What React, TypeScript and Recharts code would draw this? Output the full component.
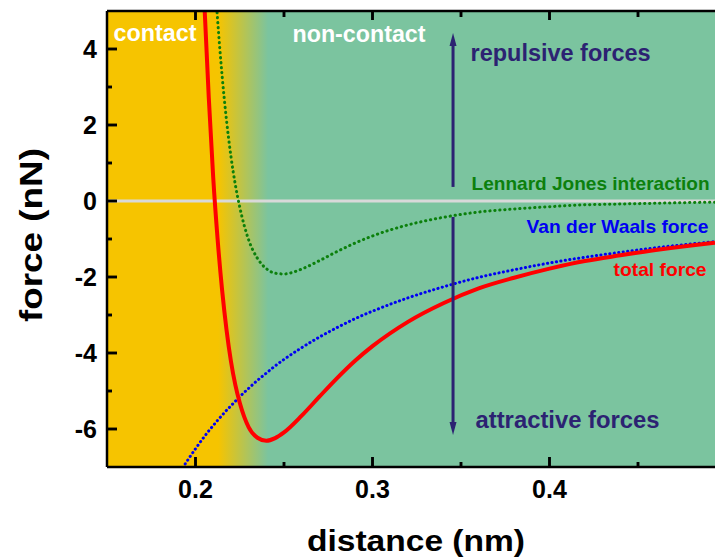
import React from 'react';
import {
  ComposedChart,
  Line,
  XAxis,
  YAxis,
  CartesianGrid,
  ReferenceLine,
  ReferenceDot,
  Label,
} from 'recharts';

// ---- data ----
const distance = [
  0.19, 0.195, 0.2, 0.205, 0.2075, 0.21, 0.2125, 0.215, 0.2175, 0.22, 0.2225,
  0.225, 0.23, 0.235, 0.24, 0.245, 0.25, 0.26, 0.27, 0.28, 0.29, 0.3, 0.32,
  0.34, 0.36, 0.38, 0.4, 0.42, 0.44, 0.46, 0.48, 0.4935,
];
const lennardJones = [
  null, null, null, 11.4, 8.77, 6.53, 4.76, 3.31, 2.13, 1.18, 0.43,
  -0.16, -1.02, -1.51, -1.78, -1.9, -1.92, -1.79, -1.57, -1.33, -1.11, -0.92, -0.63,
  -0.43, -0.29, -0.21, -0.15, -0.1, -0.08, -0.06, -0.04, -0.03,
];
const vanDerWaals = [
  -7.22, -6.86, -6.52, -6.2, -6.05, -5.91, -5.77, -5.64, -5.51, -5.39, -5.27,
  -5.15, -4.93, -4.72, -4.53, -4.34, -4.17, -3.86, -3.58, -3.33, -3.1, -2.9, -2.55,
  -2.26, -2.01, -1.81, -1.63, -1.48, -1.35, -1.23, -1.13, -1.07,
];
const totalForce = [
  null, null, 12.3, 5.2, 2.72, 0.62, -1.01, -2.33, -3.38, -4.21, -4.84,
  -5.31, -5.95, -6.23, -6.31, -6.24, -6.09, -5.65, -5.15, -4.66, -4.21, -3.82, -3.18,
  -2.69, -2.3, -2.02, -1.78, -1.58, -1.43, -1.29, -1.17, -1.1,
];

const xTicks = [0.2, 0.25, 0.3, 0.35, 0.4, 0.45];
const yTicks = [-6, -5, -4, -3, -2, -1, 0, 1, 2, 3, 4];
const xDomain = [0.15, 0.4935];
const yDomain = [-7, 5];

// arrows (data coordinates): x, shaft start, arrow tip
const arrowX = 0.3455;
const upArrow = { from: 0.37, to: 4.42 };
const downArrow = { from: -0.42, to: -6.16 };

const data = distance.map((d, i) => ({
  distance: d,
  lj: lennardJones[i],
  vdw: vanDerWaals[i],
  total: totalForce[i],
}));

// ---- layout / styles ----
const W = 715;
const H = 559;
const Y_AXIS_W = 107;
const TOP_H = 11;
const BOTTOM_H = 92;
const PLOT_W = W - Y_AXIS_W;
const PLOT_H = H - TOP_H - BOTTOM_H;
const X_PER_PX = (xDomain[1] - xDomain[0]) / PLOT_W;
const Y_PER_PX = (yDomain[1] - yDomain[0]) / PLOT_H;

const isMajorX = (v: number) => Math.abs(v * 10 - Math.round(v * 10)) < 1e-6;
const isMajorY = (v: number) => Math.abs(v / 2 - Math.round(v / 2)) < 1e-6;

// inward tick marks, built from the tick arrays (null breaks the segments)
const bottomTickMarks = xTicks.flatMap((t) => [
  { distance: t, tk: yDomain[0] },
  { distance: t, tk: yDomain[0] + (isMajorX(t) ? 10 : 5) * Y_PER_PX },
  { distance: t, tk: null },
]);
const topTickMarks = xTicks.flatMap((t) => [
  { distance: t, tk: yDomain[1] },
  { distance: t, tk: yDomain[1] - (isMajorX(t) ? 9 : 6) * Y_PER_PX },
  { distance: t, tk: null },
]);
const leftTickMarks = yTicks.flatMap((t) => [
  { distance: xDomain[0], tk: t },
  { distance: xDomain[0] + (isMajorY(t) ? 10 : 5) * X_PER_PX, tk: t },
  { distance: xDomain[0] + (isMajorY(t) ? 10 : 5) * X_PER_PX, tk: null },
]);

const FONT = '"Liberation Sans", Arial, Helvetica, sans-serif';
const NAVY = '#2C2272';
const RED = '#FF0000';
const GREEN = '#0C800C';
const BLUE = '#0000F2';
const YELLOW = '#F6C400';
const MINT = '#7BC49F';

const annotations = [
  { text: 'contact', x: 0.1537, y: 4.2, color: '#FFFFFF', size: 23, len: 83 },
  { text: 'non-contact', x: 0.2548, y: 4.18, color: '#FFFFFF', size: 23, len: 133 },
  { text: 'repulsive forces', x: 0.3554, y: 3.68, color: NAVY, size: 23, len: 180 },
  { text: 'Lennard Jones interaction', x: 0.356, y: 0.29, color: GREEN, size: 19, len: 238 },
  { text: 'Van der Waals force', x: 0.387, y: -0.84, color: BLUE, size: 19, len: 182 },
  { text: 'total force', x: 0.4362, y: -1.98, color: RED, size: 19, len: 93 },
  { text: 'attractive forces', x: 0.3582, y: -5.97, color: NAVY, size: 23, len: 184 },
];

// axis tick labels
const BottomTick = (props: any) => {
  const { x, y, payload } = props;
  if (!isMajorX(payload.value)) return <g />;
  return (
    <text x={x} y={y + 31} textAnchor="middle" fontFamily={FONT} fontWeight="bold" fontSize={25} fill="#000">
      {payload.value.toFixed(1)}
    </text>
  );
};

const LeftTick = (props: any) => {
  const { x, y, payload } = props;
  if (!isMajorY(payload.value)) return <g />;
  return (
    <text x={x - 10} y={y} dy="0.36em" textAnchor="end" fontFamily={FONT} fontWeight="bold" fontSize={25} fill="#000">
      {String(payload.value)}
    </text>
  );
};

const XTitle = (props: any) => {
  const vb = props.viewBox || { x: Y_AXIS_W, y: H - BOTTOM_H, width: PLOT_W, height: BOTTOM_H };
  return (
    <text
      x={vb.x + vb.width / 2 + 5}
      y={vb.y + 84}
      textAnchor="middle"
      fontFamily={FONT}
      fontWeight="bold"
      fontSize={30}
      fill="#000"
      textLength={218}
      lengthAdjust="spacingAndGlyphs"
    >
      distance (nm)
    </text>
  );
};

const YTitle = (props: any) => {
  const vb = props.viewBox || { x: 0, y: TOP_H, width: Y_AXIS_W, height: PLOT_H };
  const cx = vb.x + 42;
  const cy = vb.y + vb.height / 2 - 4;
  return (
    <text
      x={cx}
      y={cy}
      transform={`rotate(-90 ${cx} ${cy})`}
      textAnchor="middle"
      fontFamily={FONT}
      fontWeight="bold"
      fontSize={32}
      fill="#000"
      textLength={174}
      lengthAdjust="spacingAndGlyphs"
    >
      force (nN)
    </text>
  );
};

const makeText = (a: any) => (p: any) => (
  <text
    x={p.cx}
    y={p.cy}
    fontFamily={FONT}
    fontWeight="bold"
    fontSize={a.size}
    fill={a.color}
    textLength={a.len}
    lengthAdjust="spacingAndGlyphs"
  >
    {a.text}
  </text>
);

const UpHead = (p: any) => (
  <path d={`M${p.cx},${p.cy} L${p.cx - 3.5},${p.cy + 13} L${p.cx + 3.5},${p.cy + 13} Z`} fill={NAVY} />
);
const DownHead = (p: any) => (
  <path d={`M${p.cx},${p.cy} L${p.cx - 3.5},${p.cy - 13} L${p.cx + 3.5},${p.cy - 13} Z`} fill={NAVY} />
);

export default function App() {
  return (
    <div style={{ position: 'absolute', left: 0, top: 0, width: W, height: H, background: '#fff' }}>
      <ComposedChart width={W} height={H} data={data} margin={{ top: 0, right: 0, bottom: 0, left: 0 }}>
        <defs>
          <linearGradient id="bgGrad" x1="0" y1="0" x2="1" y2="0">
            <stop offset="0" stopColor={YELLOW} />
            <stop offset="0.183" stopColor={YELLOW} />
            <stop offset="0.265" stopColor={MINT} />
            <stop offset="1" stopColor={MINT} />
          </linearGradient>
        </defs>
        <CartesianGrid fill="url(#bgGrad)" fillOpacity={1} horizontal={false} vertical={false} stroke="none" />
        <ReferenceLine y={0} stroke="#D9D9D9" strokeWidth={3} />
        <XAxis
          dataKey="distance"
          type="number"
          domain={xDomain}
          allowDataOverflow
          ticks={xTicks}
          interval={0}
          tick={<BottomTick />}
          tickLine={false}
          tickSize={0}
          tickMargin={0}
          axisLine={false}
          height={BOTTOM_H}
        >
          <Label content={<XTitle />} />
        </XAxis>
        <XAxis
          xAxisId="top"
          orientation="top"
          type="number"
          domain={xDomain}
          allowDataOverflow
          ticks={xTicks}
          tick={false}
          tickLine={false}
          axisLine={false}
          height={TOP_H}
        />
        <YAxis
          type="number"
          domain={yDomain}
          allowDataOverflow
          ticks={yTicks}
          interval={0}
          tick={<LeftTick />}
          tickLine={false}
          tickSize={0}
          tickMargin={0}
          axisLine={false}
          width={Y_AXIS_W}
        >
          <Label content={<YTitle />} />
        </YAxis>
        <Line
          dataKey="lj"
          type="monotone"
          stroke={GREEN}
          strokeWidth={3}
          strokeDasharray="0.3 4.7"
          strokeLinecap="round"
          dot={false}
          isAnimationActive={false}
        />
        <Line
          dataKey="vdw"
          type="monotone"
          stroke={BLUE}
          strokeWidth={3}
          strokeDasharray="0.2 4.3"
          strokeLinecap="round"
          dot={false}
          isAnimationActive={false}
        />
        <Line
          dataKey="total"
          type="monotone"
          stroke={RED}
          strokeWidth={4}
          dot={false}
          isAnimationActive={false}
        />
        <ReferenceLine
          segment={[{ x: arrowX, y: upArrow.from }, { x: arrowX, y: upArrow.to - 0.3 }]}
          stroke={NAVY}
          strokeWidth={3}
        />
        <ReferenceDot x={arrowX} y={upArrow.to} shape={UpHead} />
        <ReferenceLine
          segment={[{ x: arrowX, y: downArrow.from }, { x: arrowX, y: downArrow.to + 0.3 }]}
          stroke={NAVY}
          strokeWidth={3}
        />
        <ReferenceDot x={arrowX} y={downArrow.to} shape={DownHead} />
        {annotations.map((a) => (
          <ReferenceDot key={a.text} x={a.x} y={a.y} shape={makeText(a)} />
        ))}
        {/* inward tick marks (series form) */}
        <Line data={bottomTickMarks} dataKey="tk" type="linear" stroke="#000" strokeWidth={2.5} dot={false} activeDot={false} connectNulls={false} isAnimationActive={false} legendType="none" />
        <Line data={topTickMarks} dataKey="tk" type="linear" stroke="#000" strokeWidth={2.5} dot={false} activeDot={false} connectNulls={false} isAnimationActive={false} legendType="none" />
        <Line data={leftTickMarks} dataKey="tk" type="linear" stroke="#000" strokeWidth={2.5} dot={false} activeDot={false} connectNulls={false} isAnimationActive={false} legendType="none" />
        {/* inward tick marks (reference-segment form, same positions) */}
        {xTicks.map((t) => (
          <ReferenceLine
            key={`b${t}`}
            segment={[{ x: t, y: yDomain[0] }, { x: t, y: yDomain[0] + (isMajorX(t) ? 10 : 5) * Y_PER_PX }]}
            stroke="#000"
            strokeWidth={2.5}
            ifOverflow="visible"
          />
        ))}
        {xTicks.map((t) => (
          <ReferenceLine
            key={`t${t}`}
            segment={[{ x: t, y: yDomain[1] }, { x: t, y: yDomain[1] - (isMajorX(t) ? 9 : 6) * Y_PER_PX }]}
            stroke="#000"
            strokeWidth={2.5}
            ifOverflow="visible"
          />
        ))}
        {yTicks.map((t) => (
          <ReferenceLine
            key={`l${t}`}
            segment={[{ x: xDomain[0], y: t }, { x: xDomain[0] + (isMajorY(t) ? 10 : 5) * X_PER_PX, y: t }]}
            stroke="#000"
            strokeWidth={2.5}
            ifOverflow="visible"
          />
        ))}
        {/* frame: left, top and bottom axis lines */}
        <ReferenceLine x={xDomain[0]} stroke="#000" strokeWidth={2.5} ifOverflow="visible" />
        <ReferenceLine y={yDomain[1]} stroke="#000" strokeWidth={2.5} ifOverflow="visible" />
        <ReferenceLine y={yDomain[0]} stroke="#000" strokeWidth={2.5} ifOverflow="visible" />
      </ComposedChart>
    </div>
  );
}
